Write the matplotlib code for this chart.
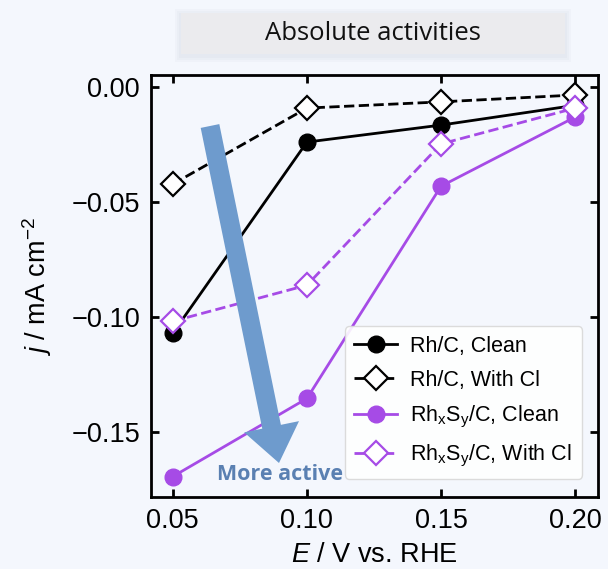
import matplotlib
matplotlib.use('Agg')
import matplotlib.pyplot as plt
from matplotlib.patches import FancyArrow, Rectangle

# potentials (V vs. RHE) and current densities (mA cm^-2)
potential = [0.05, 0.10, 0.15, 0.20]
rh_clean = [-0.1072, -0.0240, -0.0166, -0.0080]
rh_cl = [-0.0423, -0.0092, -0.0065, -0.0035]
rhs_clean = [-0.1696, -0.1356, -0.0432, -0.0131]
rhs_cl = [-0.1020, -0.0863, -0.0248, -0.0092]

x_ticks = [0.05, 0.10, 0.15, 0.20]
y_ticks = [0.00, -0.05, -0.10, -0.15]

bg = '#f4f7fd'
purple = '#a64be6'

plt.rcParams['font.family'] = ['Liberation Sans', 'DejaVu Sans']
plt.rcParams['mathtext.fontset'] = 'custom'
plt.rcParams['mathtext.rm'] = 'Liberation Sans'
plt.rcParams['mathtext.it'] = 'Liberation Sans:italic'

fig = plt.figure(figsize=(6.08, 5.69), dpi=100, facecolor=bg)
ax = fig.add_axes([0.2484, 0.1265, 0.7352, 0.7417], facecolor=bg)

ax.plot(potential, rh_clean, '-o', color='black', lw=2, ms=12,
        label='Rh/C, Clean', zorder=3)
ax.plot(potential, rh_cl, '--D', color='black', lw=2, ms=12,
        mfc='white', mew=1.6, label='Rh/C, With Cl', zorder=3)
ax.plot(potential, rhs_clean, '-o', color=purple, lw=2, ms=12,
        label=r'Rh$_\mathrm{x}$S$_\mathrm{y}$/C, Clean', zorder=3)
ax.plot(potential, rhs_cl, '--D', color=purple, lw=2, ms=12,
        mfc='white', mew=1.6, label=r'Rh$_\mathrm{x}$S$_\mathrm{y}$/C, With Cl', zorder=3)

ax.set_xlim(0.0419, 0.2085)
ax.set_ylim(-0.1785, 0.0052)
ax.set_xticks(x_ticks)
ax.set_yticks(y_ticks)
ax.set_xticklabels([f'{v:.2f}' for v in x_ticks])
ax.set_yticklabels([f'{v:.2f}'.replace('-', '\u2212') for v in y_ticks])
ax.tick_params(direction='in', length=6, width=2, labelsize=19.5,
               top=True, right=True, pad=8)
for s in ax.spines.values():
    s.set_linewidth(2)

ax.set_xlabel(r'$E$ / V vs. RHE', fontsize=19.5, labelpad=6)
ax.set_ylabel(r'$j$ / mA cm$^{-2}$', fontsize=19.5, labelpad=12)

leg = ax.legend(loc='lower right', bbox_to_anchor=(0.988, 0.018), fontsize=15.5,
                frameon=True, framealpha=0.9, edgecolor='#d8d8d8',
                handlelength=2.0, borderpad=0.45, labelspacing=0.6,
                handletextpad=0.6)
leg.set_zorder(5)

# "more active" arrow drawn in inches on the figure
arrow = FancyArrow(2.10, 4.43, 0.69, -3.37, width=0.19, head_width=0.56,
                   head_length=0.37, length_includes_head=True,
                   color='#6e9bcd', lw=0, transform=fig.dpi_scale_trans,
                   zorder=6)
fig.patches.append(arrow)
fig.text(280 / 608, 1 - 475 / 569, 'More active', family='Open Sans',
         weight='bold', fontsize=15.5, color='#5a80b2', ha='center',
         va='center', zorder=7)

# title panel with a soft shadow
for i, a in enumerate([0.04, 0.04, 0.05]):
    d = (3 - i) * 2
    fig.patches.append(Rectangle(((181 - d) / 608, 1 - (56 + d) / 569),
                                 (384 + 2 * d) / 608, (41 + 2 * d) / 569,
                                 transform=fig.transFigure, facecolor='#8890a8',
                                 alpha=a, edgecolor='none'))
fig.patches.append(Rectangle((181 / 608, 1 - 54 / 569), 384 / 608, 41 / 569,
                             transform=fig.transFigure, facecolor='#ebebee',
                             edgecolor='none'))
fig.text(373 / 608, 1 - 34 / 569, 'Absolute activities', family='Open Sans',
         fontsize=18.5, color='#111111', ha='center', va='center')

fig.savefig('out.png', dpi=100, facecolor=bg)
